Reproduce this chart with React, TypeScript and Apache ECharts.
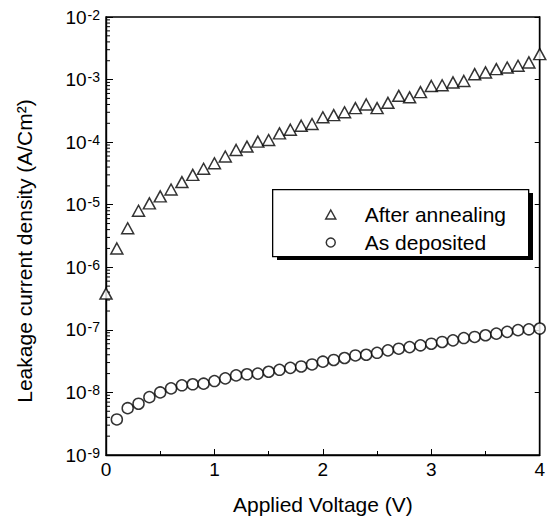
import React, { useEffect, useRef } from "react";
import * as echarts from "echarts";

const voltsAnneal = [0, 0.1, 0.2, 0.3, 0.4, 0.5, 0.6, 0.7, 0.8, 0.9, 1.0, 1.1, 1.2, 1.3, 1.4, 1.5, 1.6, 1.7, 1.8, 1.9, 2.0, 2.1, 2.2, 2.3, 2.4, 2.5, 2.6, 2.7, 2.8, 2.9, 3.0, 3.1, 3.2, 3.3, 3.4, 3.5, 3.6, 3.7, 3.8, 3.9, 4.0];
const afterAnnealing = [3.8e-7, 2.0e-6, 4.2e-6, 8.0e-6, 1.05e-5, 1.36e-5, 1.75e-5, 2.3e-5, 3.0e-5, 3.75e-5, 4.6e-5, 5.9e-5, 7.5e-5, 8.5e-5, 1.02e-4, 1.08e-4, 1.38e-4, 1.58e-4, 1.83e-4, 1.95e-4, 2.5e-4, 2.7e-4, 3.0e-4, 3.5e-4, 4.0e-4, 3.5e-4, 4.25e-4, 5.5e-4, 5.2e-4, 6.3e-4, 7.9e-4, 8.1e-4, 9.0e-4, 9.5e-4, 1.22e-3, 1.3e-3, 1.47e-3, 1.56e-3, 1.66e-3, 1.88e-3, 2.55e-3];

const voltsDep = [0.1, 0.2, 0.3, 0.4, 0.5, 0.6, 0.7, 0.8, 0.9, 1.0, 1.1, 1.2, 1.3, 1.4, 1.5, 1.6, 1.7, 1.8, 1.9, 2.0, 2.1, 2.2, 2.3, 2.4, 2.5, 2.6, 2.7, 2.8, 2.9, 3.0, 3.1, 3.2, 3.3, 3.4, 3.5, 3.6, 3.7, 3.8, 3.9, 4.0];
const asDeposited = [3.7e-9, 5.6e-9, 6.6e-9, 8.4e-9, 1.0e-8, 1.16e-8, 1.3e-8, 1.35e-8, 1.38e-8, 1.52e-8, 1.68e-8, 1.87e-8, 1.95e-8, 2.0e-8, 2.14e-8, 2.3e-8, 2.47e-8, 2.6e-8, 2.8e-8, 3.1e-8, 3.3e-8, 3.55e-8, 3.9e-8, 4.0e-8, 4.3e-8, 4.7e-8, 5.0e-8, 5.3e-8, 5.66e-8, 6.0e-8, 6.4e-8, 6.8e-8, 7.4e-8, 7.7e-8, 8.2e-8, 8.7e-8, 9.3e-8, 9.9e-8, 1.02e-7, 1.05e-7];

const xTicks = [0, 1, 2, 3, 4];
const decades = [-9, -8, -7, -6, -5, -4, -3, -2];
const minorMultipliers = [2, 3, 4, 5, 6, 7, 8, 9];

const FONT = "Liberation Sans, Arial, sans-serif";

export default function App() {
  const ref = useRef<HTMLDivElement>(null);
  useEffect(() => {
    if (!ref.current) return;
    const chart = echarts.init(ref.current, null, { renderer: "svg" });
    const minorTickValues: number[][] = [];
    decades.slice(0, -1).forEach((d) => {
      minorMultipliers.forEach((m) => minorTickValues.push([m * Math.pow(10, d)]));
    });
    const option: any = {
      animation: false,
      backgroundColor: "#fff",
      textStyle: { fontFamily: FONT },
      grid: { left: 106, right: 5, top: 17, bottom: 69, show: true, borderColor: "#000", borderWidth: 1.4 },
      legend: {
        data: [
          { name: "After annealing", icon: "triangle" },
          { name: "As deposited", icon: "circle" },
        ],
        orient: "vertical",
        left: 320,
        top: 199,
        itemWidth: 10,
        itemHeight: 9,
        itemGap: 7,
        z: 100,
        textStyle: { fontSize: 21, lineHeight: 21, color: "#000", fontFamily: FONT, padding: [0, 0, 0, 24] },
        itemStyle: { color: "#fff", borderColor: "#000", borderWidth: 1.5 },
        selectedMode: false,
      },
      graphic: [
        { type: "rect", left: 277, top: 193, z: 50, shape: { width: 256, height: 67 }, style: { fill: "#000" } },
        { type: "rect", left: 272, top: 189, z: 51, shape: { width: 256, height: 67 }, style: { fill: "#fff", stroke: "#000", lineWidth: 1.3 } },
      ],
      xAxis: [
        {
          type: "value",
          min: 0,
          max: 4,
          interval: 1,
          name: "Applied Voltage (V)",
          nameLocation: "middle",
          nameGap: 39,
          nameTextStyle: { fontSize: 21, color: "#000", fontFamily: FONT },
          axisLine: { show: true, lineStyle: { color: "#000", width: 1.4 } },
          axisTick: { show: true, inside: true, length: 6, lineStyle: { color: "#000" } },
          minorTick: { show: true, splitNumber: 2, length: 4, lineStyle: { color: "#000" } },
          splitLine: { show: false },
          axisLabel: { fontSize: 19, color: "#000", margin: 5, fontFamily: FONT, formatter: (v: number) => (xTicks.includes(v) ? String(v) : "") },
        },
      ],
      yAxis: [
        {
          type: "log",
          logBase: 10,
          min: 1e-9,
          max: 1e-2,
          name: "Leakage current density (A/Cm²)",
          nameLocation: "middle",
          nameGap: 71,
          nameTextStyle: { fontSize: 21, color: "#000", fontFamily: FONT, padding: [0, 30, 0, 0] },
          axisLine: { show: true, lineStyle: { color: "#000", width: 1.4 } },
          axisTick: { show: true, inside: true, length: 7, lineStyle: { color: "#000" } },
          splitLine: { show: false },
          axisLabel: {
            margin: 6,
            formatter: (v: number) => `{b|10}{s|${Math.round(Math.log10(v))}}`,
            rich: {
              b: { fontSize: 19, lineHeight: 19, color: "#000", fontFamily: FONT, verticalAlign: "bottom" },
              s: { fontSize: 14, lineHeight: 14, color: "#000", fontFamily: FONT, verticalAlign: "top", padding: [0, 0, 8, 1] },
            },
          },
        },
        {
          type: "log",
          logBase: 10,
          min: 1e-9,
          max: 1e-2,
          position: "right",
          axisLine: { show: true, lineStyle: { color: "#000", width: 1.4 } },
          axisTick: { show: true, inside: true, length: 5, lineStyle: { color: "#000" } },
          axisLabel: { show: false },
          splitLine: { show: false },
        },
      ],
      series: [
        {
          type: "custom",
          name: "minor",
          silent: true,
          clip: false,
          data: minorTickValues,
          renderItem: (params: any, api: any) => {
            const p = api.coord([0, api.value(0)]);
            return {
              type: "line",
              shape: { x1: p[0], y1: p[1], x2: p[0] + 4, y2: p[1] },
              style: { stroke: "#000", lineWidth: 1 },
            };
          },
          encode: { y: 0 },
          z: 1,
        },
        {
          type: "scatter",
          name: "After annealing",
          symbol: "triangle",
          symbolSize: [12, 11],
          data: voltsAnneal.map((v, i) => [v, afterAnnealing[i]]),
          itemStyle: { color: "#fff", borderColor: "#000", borderWidth: 1.5 },
          clip: false,
          z: 3,
        },
        {
          type: "scatter",
          name: "As deposited",
          symbol: "circle",
          symbolSize: 11,
          data: voltsDep.map((v, i) => [v, asDeposited[i]]),
          itemStyle: { color: "#fff", borderColor: "#000", borderWidth: 1.5 },
          clip: false,
          z: 3,
        },
      ],
    };
    chart.setOption(option);
    return () => chart.dispose();
  }, []);
  return <div ref={ref} style={{ position: "fixed", left: 0, top: 0, width: 548, height: 524 }} />;
}
